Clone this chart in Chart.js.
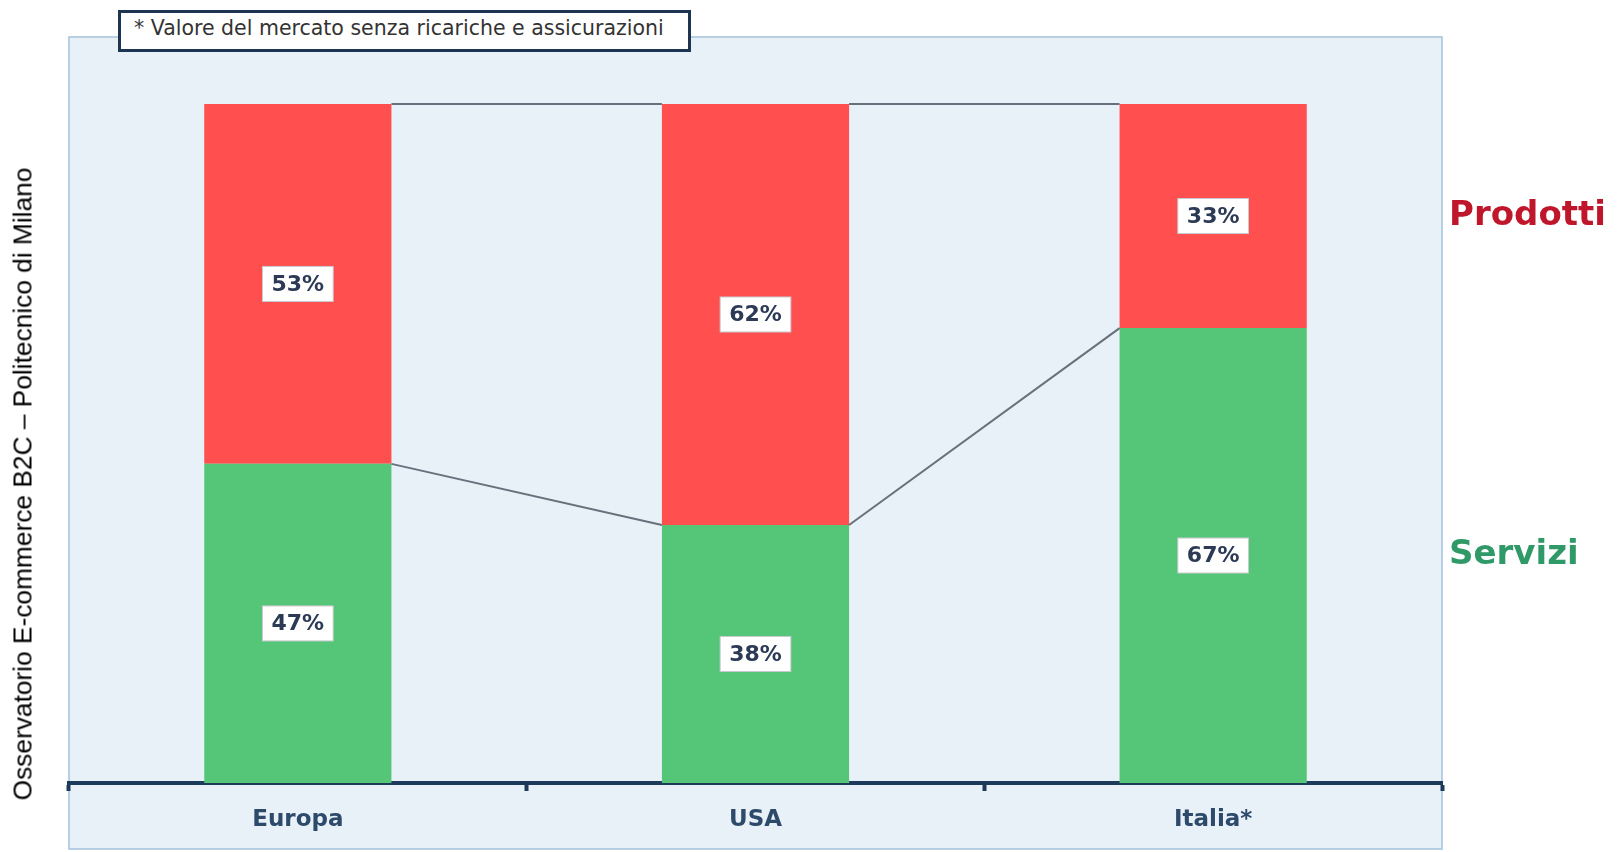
<!DOCTYPE html>
<html>
<head>
<meta charset="utf-8">
<script src="https://cdn.jsdelivr.net/npm/chart.js@4/dist/chart.umd.min.js"></script>
<style>
  html, body { margin: 0; padding: 0; background: #ffffff; }
  #wrap { position: relative; width: 1623px; height: 852px; }
  canvas { position: absolute; left: 0; top: 0; }
  #note {
    position: absolute; left: 118px; top: 10px; width: 567px; height: 36px;
    background: #ffffff; border: 3px solid #1e3552; box-sizing: content-box;
    font-family: "DejaVu Sans", sans-serif; font-size: 20.5px; color: #333333;
    line-height: 36px; white-space: nowrap; overflow: hidden;
  }
  #note span { position: relative; left: 13px; top: -3px; }
  #source {
    position: absolute; left: 23px; top: 484px;
    transform: translate(-50%, -50%) rotate(-90deg);
    font-family: "Liberation Sans", Arial, sans-serif; font-size: 26.3px; color: #000;
    white-space: nowrap;
  }
</style>
</head>
<body>
<div id="wrap">
  <canvas id="c" width="1623" height="852"></canvas>
  <div id="note"><span>* Valore del mercato senza ricariche e assicurazioni</span></div>
  <div id="source">Osservatorio E-commerce B2C – Politecnico di Milano</div>
</div>
<script>
const categories = ["Europa", "USA", "Italia*"];
const servizi = [47, 38, 67];
const prodotti = [53, 62, 33];
const seriesNames = ["Servizi", "Prodotti"];

const colRed = "#ff4f4f";
const colGreen = "#55c677";

const bgPlugin = {
  id: "bgBox",
  beforeDraw(chart) {
    const { ctx, chartArea: a } = chart;
    ctx.save();
    const top = a.top - 67, bottom = a.bottom + 66;
    ctx.fillStyle = "#e8f0f8";
    ctx.fillRect(a.left, top, a.right - a.left, bottom - top);
    ctx.strokeStyle = "#a4c2dc";
    ctx.lineWidth = 1.5;
    ctx.strokeRect(a.left, top, a.right - a.left, bottom - top);
    ctx.restore();
  }
};

const overlayPlugin = {
  id: "overlay",
  afterDatasetsDraw(chart) {
    const { ctx } = chart;
    const m0 = chart.getDatasetMeta(0).data;
    const m1 = chart.getDatasetMeta(1).data;
    ctx.save();
    ctx.strokeStyle = "#68707c";
    ctx.lineWidth = 2;
    for (let i = 0; i < m0.length - 1; i++) {
      const a0 = m0[i], b0 = m0[i + 1];
      const a1 = m1[i], b1 = m1[i + 1];
      ctx.beginPath();
      ctx.moveTo(a0.x + a0.width / 2, a0.y);
      ctx.lineTo(b0.x - b0.width / 2, b0.y);
      ctx.stroke();
      ctx.beginPath();
      ctx.moveTo(a1.x + a1.width / 2, a1.y);
      ctx.lineTo(b1.x - b1.width / 2, b1.y);
      ctx.stroke();
    }
    ctx.font = "bold 22px 'DejaVu Sans', sans-serif";
    ctx.textAlign = "center";
    ctx.textBaseline = "middle";
    const drawLabel = (el, v) => {
      const cy = (el.y + el.base) / 2;
      const txt = v + "%";
      const w = ctx.measureText(txt).width + 18;
      const h = 35;
      ctx.fillStyle = "#ffffff";
      ctx.fillRect(el.x - w / 2, cy - h / 2, w, h);
      ctx.strokeStyle = "#c9c9d0";
      ctx.lineWidth = 1;
      ctx.strokeRect(el.x - w / 2, cy - h / 2, w, h);
      ctx.fillStyle = "#2c3a56";
      ctx.fillText(txt, el.x, cy + 1);
    };
    m0.forEach((el, i) => drawLabel(el, servizi[i]));
    m1.forEach((el, i) => drawLabel(el, prodotti[i]));
    const last = m0.length - 1;
    const xName = chart.chartArea.right + 7;
    ctx.textAlign = "left";
    ctx.font = "bold 34px 'DejaVu Sans', sans-serif";
    ctx.fillStyle = "#c0162c";
    ctx.fillText(seriesNames[1], xName, (m1[last].y + m1[last].base) / 2);
    ctx.fillStyle = "#2f9a68";
    ctx.fillText(seriesNames[0], xName, (m0[last].y + m0[last].base) / 2);
    ctx.restore();
  }
};

new Chart(document.getElementById("c"), {
  type: "bar",
  data: {
    labels: categories,
    datasets: [
      { label: seriesNames[0], data: servizi, backgroundColor: colGreen },
      { label: seriesNames[1], data: prodotti, backgroundColor: colRed }
    ]
  },
  options: {
    responsive: false,
    animation: false,
    events: [],
    layout: { padding: { left: 69, right: 181, top: 104, bottom: 0 } },
    datasets: { bar: { categoryPercentage: 1.0, barPercentage: 0.409 } },
    plugins: { legend: { display: false }, tooltip: { enabled: false } },
    scales: {
      x: {
        stacked: true,
        afterFit(s) { s.height = 69; },
        border: { display: true, color: "#1e3a5a", width: 4 },
        grid: { offset: true, drawOnChartArea: false, drawTicks: true, tickLength: 8, tickWidth: 4, tickColor: "#1e3a5a" },
        ticks: { color: "#2d4a6a", padding: 15, font: { family: "'DejaVu Sans', sans-serif", size: 23, weight: "bold" } }
      },
      y: {
        stacked: true, display: false, min: 0, max: 100
      }
    }
  },
  plugins: [bgPlugin, overlayPlugin]
});
</script>
</body>
</html>
